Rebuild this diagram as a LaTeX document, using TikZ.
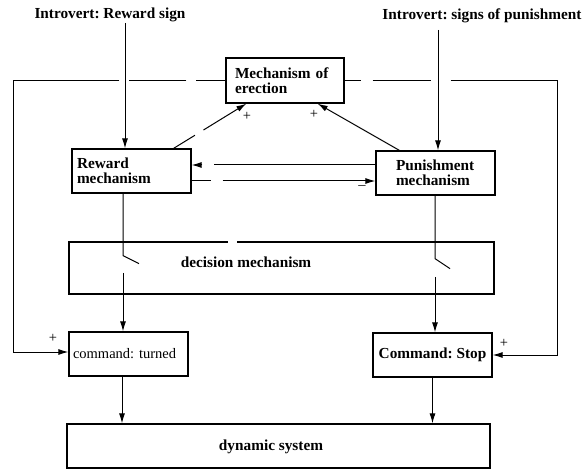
\documentclass[tikz,border=0pt]{standalone}
\usepackage{fontspec}
\setmainfont{Liberation Serif}
\usetikzlibrary{arrows.meta}
\frenchspacing
\begin{document}
\begin{tikzpicture}[x=1pt,y=-1pt,
 box/.style={draw, line width=1.3pt, inner ysep=0pt},
 lbl/.style={font=\fontsize{15.3}{15}\selectfont\bfseries},
 plain/.style={font=\fontsize{14.5}{15}\selectfont},
 conn/.style={line width=1pt},
 arr/.style={conn,-{Latex[length=10pt,width=6pt]}}]
\useasboundingbox[fill=white] (0,0) rectangle (584,473);

% boxes
\node[box, lbl, minimum width=119pt, minimum height=44pt, inner xsep=5pt, text width=109pt, align=left] (rew) at (131.5,171) {Reward\\mechanism};
\node[box, lbl, minimum width=118pt, minimum height=45pt, inner xsep=9pt, text width=100pt, align=left] (ere) at (285,80.5) {Mechanism of\\erection};
\node[box, lbl, minimum width=119pt, minimum height=44pt, inner xsep=20pt, text width=79pt, align=left] (pun) at (435.5,173) {Punishment\\mechanism};
\node[box, minimum width=425pt, minimum height=52pt] (dec) at (281.5,268) {};
\node[lbl] (dectxt) at (246,262) {decision mechanism};
\node[box, plain, minimum width=119pt, minimum height=44pt, inner xsep=4pt, text width=111pt, align=left] (turned) at (128.5,354) {command: turned};
\node[box, lbl, minimum width=119pt, minimum height=44pt] (stop) at (432.5,355) {Command: Stop};
\node[box, minimum width=423pt, minimum height=44pt] (dyn) at (278.5,446) {};
\node[lbl] (dyntxt) at (271,447) {dynamic system};
\fill[white] (228,239) rectangle (237,245);

% inputs
\node[lbl] (rsign) at (110,15) {Introvert: Reward sign};
\node[lbl] (psign) at (482,16) {Introvert: signs of punishment};
\coordinate (rtop) at (125,23);
\draw[arr] (rtop) -- (rtop |- rew.north);
\coordinate (ptop) at (438,30);
\draw[arr] (ptop) -- (ptop |- pun.north);

% feedback lines
\coordinate (L2) at (13,352);
\draw[conn, dash pattern=on 29pt off 10pt on 57pt off 10pt on 200pt] (ere.west) -- (ere.west -| L2);
\draw[arr] (ere.west -| L2) -- (L2) -- (L2 -| turned.west);
\coordinate (R2) at (557,355);
\draw[conn, dash pattern=on 16pt off 12pt on 58pt off 20pt on 200pt] (ere.east) -- (ere.east -| R2);
\draw[arr] (ere.east -| R2) -- (R2) -- (R2 -| stop.east);
\node[plain] (plusL) at (53,338) {+};
\node[plain] (plusR) at (504,343) {+};

% to erection
\draw[arr, dash pattern=on 25pt off 10pt on 100pt] ([xshift=-18pt]rew.north east) -- ([xshift=21pt]ere.south west);
\draw[arr] ([xshift=24pt]pun.north west) -- ([xshift=-27pt]ere.south east);
\node[plain] (plus1) at (247,116) {+};
\node[plain] (plus2) at (314,114) {+};

% between reward and punishment
\coordinate (h1) at ([yshift=6pt]rew.east);
\draw[arr, dash pattern=on 161pt off 12pt on 30pt] (h1 -| pun.west) -- (h1);
\coordinate (h2) at ([yshift=-10pt]rew.east);
\draw[arr, dash pattern=on 19pt off 12pt on 200pt] (h2) -- (h2 -| pun.west);
\node[plain] (minus) at (362,188) {–};

% switches
\draw[conn] ([xshift=-8.5pt]rew.south) -- ++(0,62) -- ++(16,8);
\coordinate (s1) at (123,273);
\draw[arr] (s1) -- (s1 |- turned.north);
\draw[conn] ([xshift=-0.5pt]pun.south) -- ++(0,63) -- ++(15,10);
\coordinate (s2) at (435,277);
\draw[arr] (s2) -- (s2 |- stop.north);

% to dynamic system
\coordinate (t1) at ([xshift=-6.5pt]turned.south);
\draw[arr] (t1) -- (t1 |- dyn.north);
\draw[arr] (stop.south) -- (stop.south |- dyn.north);
\end{tikzpicture}
\end{document}
